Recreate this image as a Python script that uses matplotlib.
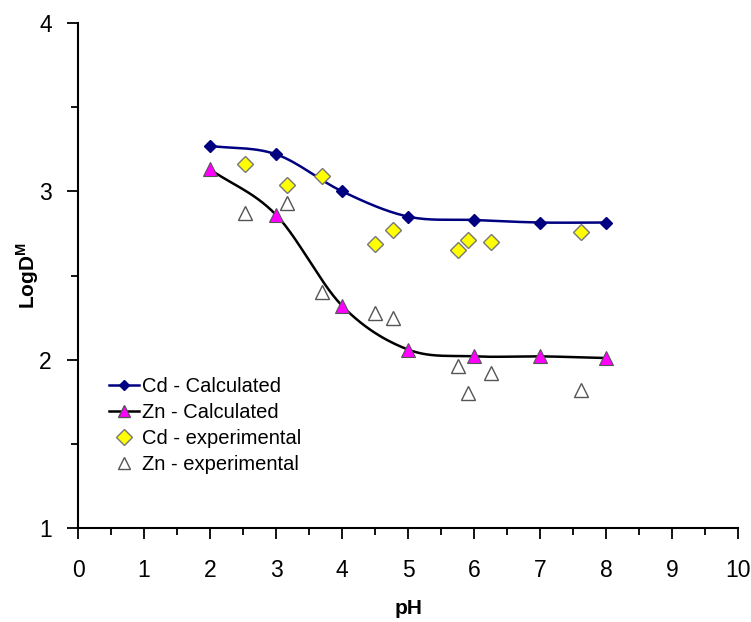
import numpy as np
import matplotlib
matplotlib.use("Agg")
import matplotlib.pyplot as plt
from matplotlib.ticker import MultipleLocator
from matplotlib.lines import Line2D

# ----------------- dados -----------------
ph_calc = [2, 3, 4, 5, 6, 7, 8]
cd_calc = [3.27, 3.22, 3.00, 2.85, 2.83, 2.815, 2.815]
zn_calc = [3.13, 2.86, 2.32, 2.06, 2.02, 2.02, 2.01]

ph_exp = [2.53, 3.17, 3.70, 4.49, 4.77, 5.76, 5.91, 6.26, 7.62]
cd_exp = [3.16, 3.04, 3.09, 2.69, 2.77, 2.65, 2.71, 2.70, 2.76]
ph_exp_zn = [2.53, 3.17, 3.70, 4.49, 4.77, 5.76, 5.91, 6.26, 7.62]
zn_exp = [2.87, 2.93, 2.40, 2.28, 2.25, 1.96, 1.80, 1.92, 1.82]

# ----------------- estilo -----------------
plt.rcParams.update({
    "font.family": ["Liberation Sans", "DejaVu Sans"],
    "font.size": 14,
})

BLUE = "#000080"
MAGENTA = "#FF00FF"


def _smooth(x, y, n=30):
    # curva suavizada tipo Excel (Catmull-Rom) passando pelos pontos
    x = np.asarray(x, float); y = np.asarray(y, float)
    px = np.concatenate([[2 * x[0] - x[1]], x, [2 * x[-1] - x[-2]]])
    py = np.concatenate([[2 * y[0] - y[1]], y, [2 * y[-1] - y[-2]]])
    xs, ys = [], []
    t = np.linspace(0, 1, n)
    for i in range(1, len(px) - 2):
        p0, p1, p2, p3 = [np.array([px[j], py[j]]) for j in (i - 1, i, i + 1, i + 2)]
        for tt in t:
            pt = 0.5 * ((2 * p1) + (-p0 + p2) * tt + (2 * p0 - 5 * p1 + 4 * p2 - p3) * tt ** 2
                        + (-p0 + 3 * p1 - 3 * p2 + p3) * tt ** 3)
            xs.append(pt[0]); ys.append(pt[1])
    return np.array(xs), np.array(ys)


fig = plt.figure(figsize=(7.51, 6.22), dpi=100)
ax = fig.add_axes([0.104, 0.151, 0.879, 0.812])

sx, sy = _smooth(ph_calc, cd_calc)
ax.plot(sx, sy, color=BLUE, lw=1.8, zorder=2)
ax.plot(ph_calc, cd_calc, ls="none", marker="D", ms=6, color=BLUE, zorder=3)
sx, sy = _smooth(ph_calc, zn_calc)
ax.plot(sx, sy, color="black", lw=1.8, zorder=2)
ax.plot(ph_calc, zn_calc, ls="none", marker="^", ms=10, mfc=MAGENTA,
        mec="#555555", mew=0.8, zorder=3)
ax.plot(ph_exp, cd_exp, ls="none", marker="D", ms=8, mfc="#FFFF00",
        mec="#777777", mew=1.0, zorder=3)
ax.plot(ph_exp_zn, zn_exp, ls="none", marker="^", ms=10, mfc="white",
        mec="#555555", mew=1.0, zorder=3)

# legenda (estilo Excel)
handles = [
    Line2D([0], [0], color=BLUE, lw=1.8, marker="D", ms=5),
    Line2D([0], [0], color="black", lw=1.8, marker="^", ms=9, mfc=MAGENTA, mec="#555555"),
    Line2D([0], [0], ls="none", marker="D", ms=8, mfc="#FFFF00", mec="#777777"),
    Line2D([0], [0], ls="none", marker="^", ms=8, mfc="white", mec="#555555"),
]
labels = ["Cd - Calculated", "Zn - Calculated", "Cd - experimental", "Zn - experimental"]
ax.legend(handles, labels, loc="lower left", bbox_to_anchor=(0.035, 0.091),
          frameon=False, fontsize=14.5, handlelength=1.5, handletextpad=0.15,
          labelspacing=0.35, borderaxespad=0)

ax.set_xlim(0, 10)
ax.set_ylim(1, 4)
ax.xaxis.set_major_locator(MultipleLocator(1))
ax.xaxis.set_minor_locator(MultipleLocator(0.5))
ax.yaxis.set_major_locator(MultipleLocator(1))
ax.yaxis.set_minor_locator(MultipleLocator(0.5))
ax.spines["top"].set_visible(False)
ax.spines["right"].set_visible(False)
for s in ("left", "bottom"):
    ax.spines[s].set_linewidth(1.5)
ax.tick_params(which="major", direction="out", length=8, width=1.3, labelsize=16.5)
ax.tick_params(which="minor", direction="out", length=5, width=1.3)
ax.tick_params(axis="x", which="major", pad=14)
ax.tick_params(axis="y", which="major", pad=11)
ax.set_xlabel("pH", fontsize=15, fontweight="bold")
ax.set_ylabel("LogD$^{\\mathregular{M}}$", fontsize=15, fontweight="bold")
ax.xaxis.set_label_coords(0.5, -0.14)
ax.yaxis.set_label_coords(-0.056, 0.5)

fig.savefig("out.png", dpi=100)
